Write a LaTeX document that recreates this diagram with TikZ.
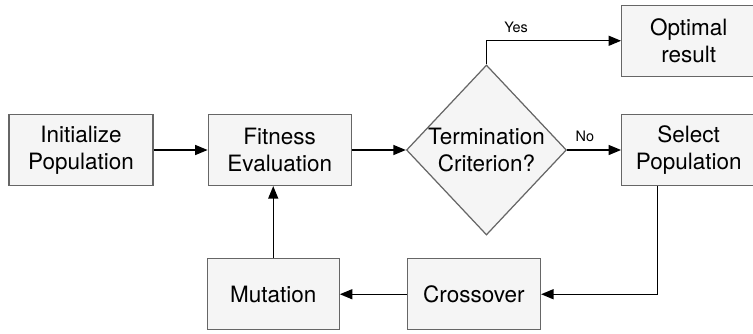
\documentclass[tikz,border=0pt]{standalone}
\usepackage{fontspec}
\setmainfont{TeX Gyre Heros}
\usepackage{xcolor}
\usetikzlibrary{positioning, arrows.meta, shapes.geometric}

\definecolor{boxfill}{HTML}{F5F5F5}
\definecolor{boxline}{HTML}{666666}

\begin{document}
\begin{tikzpicture}[
    every node/.style={font=\fontsize{12.8}{15.4}\selectfont},
    process/.style={draw=boxline, fill=boxfill, line width=0.7pt,
                    minimum width=2.68cm, minimum height=1.42cm,
                    align=center},
    decision/.style={draw=boxline, fill=boxfill, line width=0.7pt,
                     diamond, minimum width=3.2cm, minimum height=3.4cm,
                     inner sep=0pt},
    answer/.style={font=\fontsize{8.2}{10}\selectfont, above},
    arrow/.style={-{Triangle[length=2.5mm, width=2mm]}, line width=0.8pt},
]

\useasboundingbox (0,0) rectangle (15.06,-6.66);

% Main row
\node[process, minimum width=2.88cm] (init) at (1.62,-3.0)
      {Initialize\\Population};
\node[process, minimum width=2.86cm, right=1.08cm of init] (fitness)
      {Fitness\\Evaluation};
\node[decision, right=1.08cm of fitness,
      label={[align=center]center:{Termination\\Criterion?}}] (term) {};
\node[process, right=1.08cm of term] (select) {Select\\Population};
\node[process, above=0.74cm of select] (optimal) {Optimal\\result};

% Loop back
\node[process, minimum width=2.64cm, below=1.44cm of fitness,
      xshift=-1.3mm] (mutation) {Mutation};
\node[process, minimum width=2.66cm, right=1.34cm of mutation]
      (crossover) {Crossover};

% Arrows
\draw[arrow] (init) -- (fitness);
\draw[arrow] (fitness) -- (term);
\draw[arrow] (term.north) |- node[answer, pos=0.61, yshift=1pt] {Yes}
      (optimal);
\draw[arrow] (term) -- node[answer, pos=0.33, yshift=1pt] {No} (select);
\draw[arrow] ([xshift=-6.2mm]select.south) |- (crossover);
\draw[arrow] (crossover) -- (mutation);
\draw[arrow] (mutation) -- (mutation |- fitness.south);

\end{tikzpicture}
\end{document}
